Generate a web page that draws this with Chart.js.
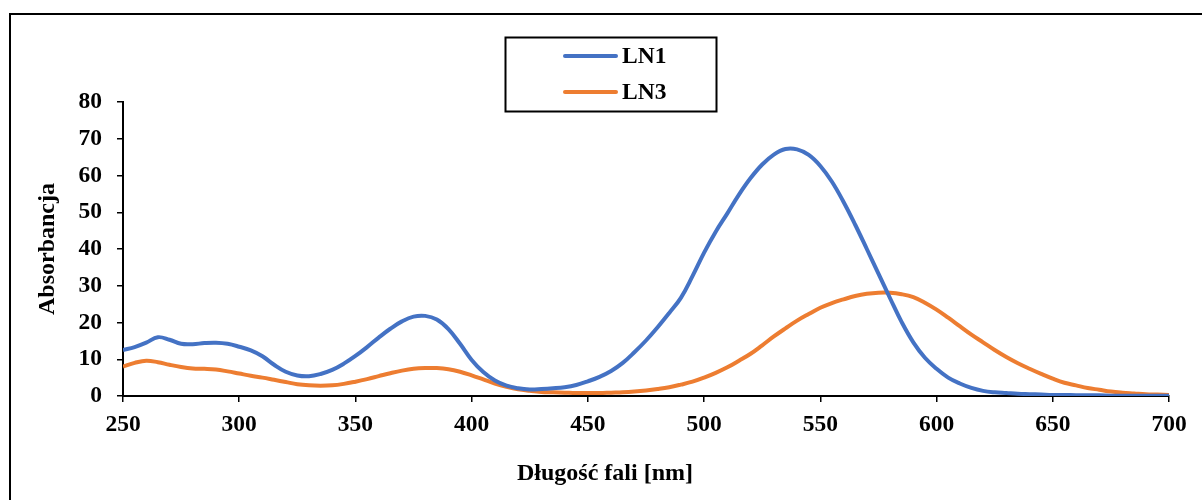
<!DOCTYPE html>
<html>
<head>
<meta charset="utf-8">
<script src="https://cdn.jsdelivr.net/npm/chart.js@4.4.1/dist/chart.umd.min.js"></script>
<style>
  html, body { margin: 0; padding: 0; background: #fff; }
  #wrap { position: relative; width: 1202px; height: 500px; }
</style>
</head>
<body>
<div id="wrap"><canvas id="widmo"></canvas></div>
<script>
// długości fali co 5 nm
const wavelengths = [];
for (let w = 250; w <= 700; w += 5) wavelengths.push(w);

const ln1 = [
  12.5, 13.3, 14.5, 16.0, 15.3, 14.2, 14.1, 14.4, 14.5, 14.2,
  13.4, 12.4, 10.8, 8.5, 6.6, 5.6, 5.4, 6.0, 7.1, 8.8,
  10.9, 13.3, 15.9, 18.3, 20.3, 21.6, 21.8, 20.8, 18.2, 14.2,
  9.8, 6.5, 4.2, 2.8, 2.1, 1.8, 1.9, 2.1, 2.4, 3.0,
  4.0, 5.2, 6.8, 9.0, 11.9, 15.1, 18.7, 22.6, 26.7, 32.6,
  39.0, 44.7, 49.7, 54.8, 59.3, 63.0, 65.7, 67.2, 67.1, 65.6,
  62.6, 58.3, 52.8, 46.6, 40.0, 33.3, 26.6, 20.1, 14.6, 10.4,
  7.4, 5.0, 3.4, 2.2, 1.4, 1.0, 0.8, 0.6, 0.5, 0.4,
  0.3, 0.3, 0.2, 0.2, 0.2, 0.1, 0.1, 0.1, 0.1, 0.1,
  0.1
];

const ln3 = [
  8.0, 9.0, 9.6, 9.2, 8.5, 7.9, 7.5, 7.4, 7.2, 6.7,
  6.1, 5.5, 5.0, 4.4, 3.8, 3.2, 2.9, 2.8, 2.9, 3.3,
  3.9, 4.6, 5.4, 6.2, 6.9, 7.4, 7.6, 7.6, 7.3, 6.6,
  5.6, 4.5, 3.4, 2.5, 1.8, 1.4, 1.1, 1.0, 0.9, 0.8,
  0.8, 0.8, 0.9, 1.0, 1.2, 1.5, 1.9, 2.4, 3.1, 3.9,
  5.0, 6.3, 7.8, 9.6, 11.5, 13.8, 16.2, 18.4, 20.5, 22.3,
  24.0, 25.3, 26.3, 27.2, 27.8, 28.1, 28.1, 27.7, 26.9, 25.4,
  23.5, 21.3, 19.0, 16.7, 14.6, 12.5, 10.6, 8.9, 7.4, 6.0,
  4.7, 3.6, 2.9, 2.2, 1.7, 1.2, 0.9, 0.7, 0.5, 0.4,
  0.3
];

const seriesNames = ['LN1', 'LN3'];
const seriesColors = ['#4472C4', '#ED7D31'];
const xTitle = 'Długość fali [nm]';
const yTitle = 'Absorbancja';

const FONT = "'Liberation Serif', 'Times New Roman', serif";
Chart.defaults.font.family = FONT;
Chart.defaults.font.weight = 'bold';
Chart.defaults.font.size = 23.5;
Chart.defaults.color = '#000';

function toPoints(values) {
  return values.map((v, i) => ({ x: wavelengths[i], y: v }));
}

// ramka wykresu, tytuł osi X i legenda w prostokącie
const frameAndLegend = {
  id: 'frameAndLegend',
  afterDraw(chart) {
    const ctx = chart.ctx;
    ctx.save();
    ctx.strokeStyle = '#000';
    ctx.lineWidth = 2;
    ctx.strokeRect(10, 14, 1200, 500);

    ctx.fillStyle = '#000';
    ctx.font = 'bold 24px ' + FONT;
    ctx.textAlign = 'center';
    ctx.textBaseline = 'middle';
    ctx.fillText(xTitle, 605, 474);

    ctx.lineWidth = 2;
    ctx.strokeRect(505.5, 37.5, 211, 74);
    ctx.font = 'bold 23.5px ' + FONT;
    ctx.textAlign = 'left';
    chart.data.datasets.forEach((ds, i) => {
      const y = 56 + i * 36;
      ctx.strokeStyle = ds.borderColor;
      ctx.lineWidth = 4;
      ctx.lineCap = 'round';
      ctx.beginPath();
      ctx.moveTo(565, y);
      ctx.lineTo(616, y);
      ctx.stroke();
      ctx.fillText(ds.label, 622, y + 1);
    });
    ctx.restore();
  }
};

new Chart(document.getElementById('widmo'), {
  type: 'line',
  data: {
    datasets: [ln1, ln3].map((vals, i) => ({
      label: seriesNames[i],
      data: toPoints(vals),
      borderColor: seriesColors[i],
      backgroundColor: seriesColors[i],
      borderWidth: 4,
      pointRadius: 0,
      tension: 0.4,
      fill: false
    }))
  },
  options: {
    responsive: true,
    maintainAspectRatio: false,
    animation: false,
    layout: { padding: { left: 0, top: 102, right: 33, bottom: 0 } },
    plugins: {
      legend: { display: false },
      tooltip: { enabled: false }
    },
    scales: {
      x: {
        type: 'linear',
        min: 250,
        max: 700,
        afterFit(scale) { scale.height = 104; },
        ticks: { stepSize: 50, padding: 9 },
        grid: { drawOnChartArea: false, color: '#000', lineWidth: 1.5, tickLength: 6 },
        border: { color: '#000', width: 2 }
      },
      y: {
        min: 0,
        max: 80,
        afterFit(scale) { scale.width = 123; },
        ticks: { stepSize: 10, padding: 15 },
        grid: { drawOnChartArea: false, color: '#000', lineWidth: 1.5, tickLength: 6 },
        border: { color: '#000', width: 2 },
        title: { display: true, text: yTitle, font: { size: 24 }, padding: { top: 33, bottom: 0 } }
      }
    }
  },
  plugins: [frameAndLegend]
});
</script>
</body>
</html>
